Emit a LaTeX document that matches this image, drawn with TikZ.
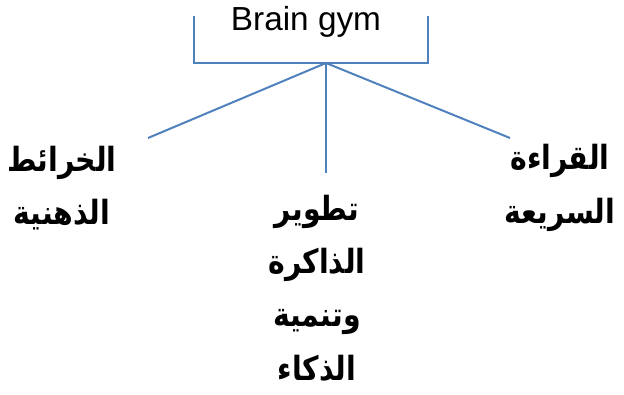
\documentclass[tikz,border=0pt]{standalone}
\usepackage{fontspec}
\setmainfont{Liberation Sans}
\newfontfamily\arabicfont[Script=Arabic, FakeStretch=0.85]{DejaVu Sans}
\TeXXeTstate=1
\usetikzlibrary{positioning}
\definecolor{linkblue}{RGB}{79,129,189}

\begin{document}
\begin{tikzpicture}[x=0.75pt, y=-0.75pt,
    link/.style={draw=linkblue, line width=1.5pt},
    branch/.style={font=\arabicfont\bfseries\fontsize{25}{40}\selectfont, align=center, inner sep=0pt}]
  \useasboundingbox (0,0) rectangle (624,394);
  % open box under the title
  \node[anchor=base, font=\fontsize{25}{28}\selectfont] (title) at (306,30) {Brain gym};
  \coordinate (boxtl) at (194,16);
  \coordinate (boxtr) at (428,16);
  \coordinate (apex) at (326,63);
  \draw[link] (boxtl) |- (apex) -| (boxtr);
  % the three branches
  \node[branch] (maps) at (62,188) {\beginR الخرائط\endR\\\beginR الذهنية\endR};
  \node[branch] (memory) at (317,288) {\beginR تطوير\endR\\\beginR الذاكرة\endR\\\beginR وتنمية\endR\\\beginR الذكاء\endR};
  \node[branch] (reading) at (560,188) {\beginR القراءة\endR\\\beginR السريعة\endR};
  \coordinate (mapsend) at (148,138);
  \coordinate (memoryend) at (326,173);
  \coordinate (readingend) at (510,138);
  \draw[link] (apex) -- (mapsend);
  \draw[link] (apex) -- (memoryend);
  \draw[link] (apex) -- (readingend);
\end{tikzpicture}
\end{document}
